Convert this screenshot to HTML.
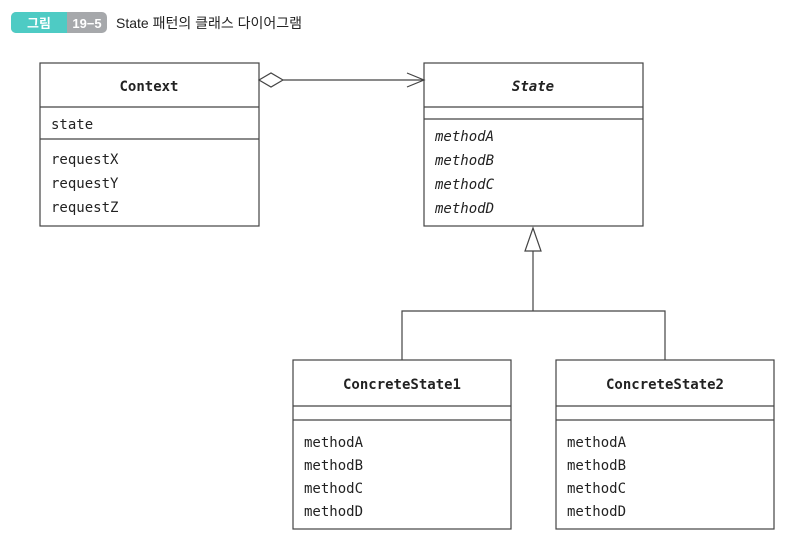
<!DOCTYPE html>
<html><head><meta charset="utf-8"><style>
body{margin:0;background:#fff;width:789px;height:545px;overflow:hidden}
svg{display:block}
.t{font-family:"DejaVu Sans Mono","Liberation Mono",monospace;font-size:14px;fill:#222}
</style></head><body>
<svg width="789" height="545" viewBox="0 0 789 545" xmlns="http://www.w3.org/2000/svg">
<rect x="11" y="12" width="96" height="21" rx="5" fill="#a6a8ab"/>
<path d="M16 12 H67 V33 H16 A5 5 0 0 1 11 28 V17 A5 5 0 0 1 16 12Z" fill="#4ecbc4"/>
<text x="39" y="28" text-anchor="middle" font-family="Liberation Sans,'Noto Sans CJK KR',sans-serif" font-size="13" font-weight="bold" fill="#fff">그림</text>
<text x="87" y="28" text-anchor="middle" font-family="Liberation Sans,sans-serif" font-size="13" font-weight="bold" fill="#fff">19−5</text>
<text x="116" y="28" font-family="Liberation Sans,'Noto Sans CJK KR',sans-serif" font-size="14" fill="#222">State 패턴의 클래스 다이어그램</text>
<g fill="none" stroke="#444" stroke-width="1.2">
<rect x="40" y="63" width="219" height="163"/><line x1="40" y1="107" x2="259" y2="107"/><line x1="40" y1="139" x2="259" y2="139"/>
<rect x="424" y="63" width="219" height="163"/><line x1="424" y1="107" x2="643" y2="107"/><line x1="424" y1="119" x2="643" y2="119"/>
<rect x="293" y="360" width="218" height="169"/><line x1="293" y1="406" x2="511" y2="406"/><line x1="293" y1="420" x2="511" y2="420"/>
<rect x="556" y="360" width="218" height="169"/><line x1="556" y1="406" x2="774" y2="406"/><line x1="556" y1="420" x2="774" y2="420"/>
<path d="M259 80 L271 73 L283 80 L271 87 Z" fill="#fff"/>
<line x1="283" y1="80" x2="424" y2="80"/>
<path d="M407 73 L424 80 L407 87"/>
<path d="M533 228 L541 251 L525 251 Z" fill="#fff"/>
<path d="M533 251 V311 M402 360 V311 H665 V360"/>
</g>
<g class="t">
<text x="149" y="91" text-anchor="middle" font-weight="bold">Context</text>
<text x="51" y="129">state</text>
<text x="51" y="164">requestX</text><text x="51" y="188">requestY</text><text x="51" y="212">requestZ</text>
<text x="533" y="91" text-anchor="middle" font-weight="bold" font-style="italic">State</text>
<text x="435" y="141" font-style="italic">methodA</text><text x="435" y="165" font-style="italic">methodB</text><text x="435" y="189" font-style="italic">methodC</text><text x="435" y="213" font-style="italic">methodD</text>
<text x="402" y="389" text-anchor="middle" font-weight="bold">ConcreteState1</text>
<text x="304" y="447">methodA</text><text x="304" y="470">methodB</text><text x="304" y="493">methodC</text><text x="304" y="516">methodD</text>
<text x="665" y="389" text-anchor="middle" font-weight="bold">ConcreteState2</text>
<text x="567" y="447">methodA</text><text x="567" y="470">methodB</text><text x="567" y="493">methodC</text><text x="567" y="516">methodD</text>
</g>
</svg>
</body></html>
